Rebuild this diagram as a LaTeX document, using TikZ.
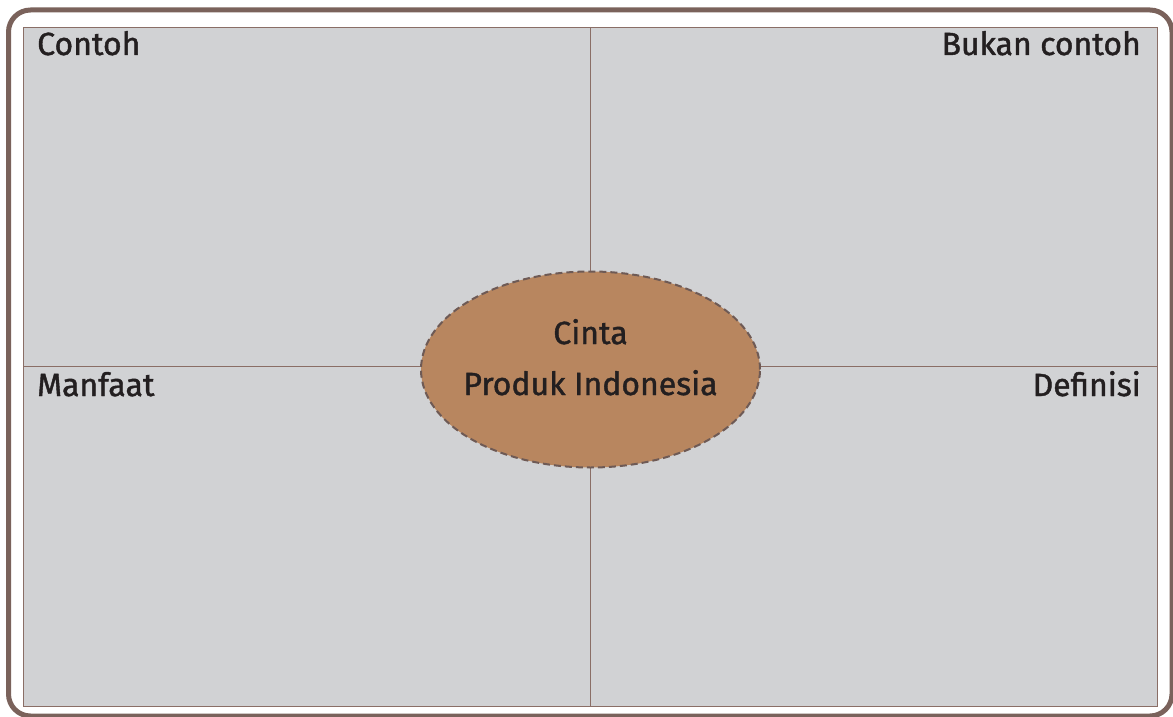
\documentclass[tikz,border=0pt]{standalone}
\usepackage{fontspec}
\newfontfamily\lblfont{Fira Sans}[FakeBold=1.3]
\usetikzlibrary{shapes.geometric}
\definecolor{frame}{HTML}{7A625B}
\definecolor{panel}{HTML}{D1D2D4}
\definecolor{rule}{HTML}{8A6E66}
\definecolor{blob}{HTML}{B8865F}
\definecolor{dash}{HTML}{6E5A55}
\definecolor{ink}{HTML}{231F20}
\tikzset{
  lbl/.style={font=\lblfont\fontsize{32}{38}\selectfont, text=ink, inner sep=0pt},
  centre/.style={ellipse, fill=blob, draw=dash, line width=2pt,
     dash pattern=on 7pt off 4pt, minimum width=339pt, minimum height=196pt,
     inner sep=0pt},
}
\begin{document}
\begin{tikzpicture}[x=1pt,y=-1pt]
\useasboundingbox (0,0) rectangle (1173,717);
\draw[frame, line width=5pt, rounded corners=22pt] (8.5,10) rectangle (1172,716);
\node[draw=rule, fill=panel, line width=1pt, minimum width=1134pt, minimum height=679pt, inner sep=0pt, anchor=north west] (panel) at (23,27) {};
\coordinate (vt) at (590.5,27);
\coordinate (vb) at (590.5,706);
\coordinate (hl) at (23,366);
\coordinate (hr) at (1157,366);
\draw[rule, line width=1pt] (vt) -- (vb);
\draw[rule, line width=1pt] (hl) -- (hr);
\node[centre] (c) at (590.5,369.5) {};
\node[lbl, anchor=base] (l1) at (590.5,344) {Cinta};
\node[lbl, anchor=base] (l2) at (590.5,395) {Produk Indonesia};
\node[lbl, anchor=base west] (contoh) at (37,55) {Contoh};
\node[lbl, anchor=base east] (bukan) at (1141,55) {Bukan contoh};
\node[lbl, anchor=base west] (manfaat) at (37,396) {Manfaat};
\node[lbl, anchor=base east] (def) at (1141,396) {Definisi};
\end{tikzpicture}
\end{document}
